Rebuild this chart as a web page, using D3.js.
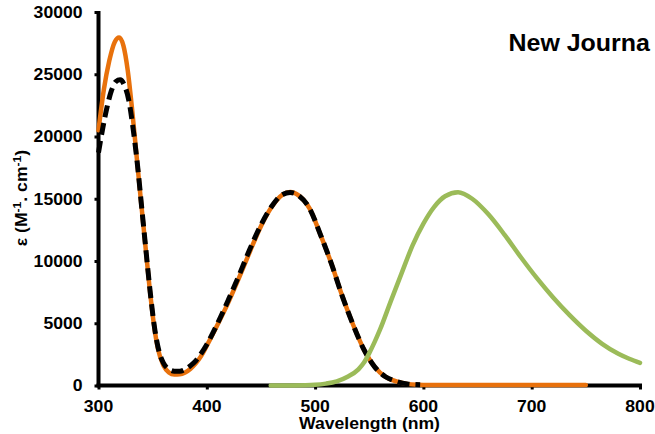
<!DOCTYPE html>
<html>
<head>
<meta charset="utf-8">
<script src="https://cdn.jsdelivr.net/npm/d3@7"></script>
<style>
  html, body { margin: 0; padding: 0; background: #fff; overflow: hidden; }
  svg { display: block; }
  text { font-family: "Liberation Sans", Arial, sans-serif; font-weight: bold; fill: #000; }
</style>
</head>
<body>
<svg id="chart" width="655" height="434"></svg>
<script>
// ---- data ----
const xTicks = [300, 400, 500, 600, 700, 800];
const yTicks = [0, 5000, 10000, 15000, 20000, 25000, 30000];

const expWavelength = [300, 305, 310, 315, 319, 323, 327, 331, 335, 339, 343, 347, 351, 355, 360, 365, 370, 375, 380, 385, 390, 395, 400, 410, 420, 430, 440, 450, 460, 470, 477, 485, 495, 505, 515, 525, 535, 545, 555, 565, 575, 585, 595, 605, 650, 700, 750];
const expEpsilon    = [20500, 23800, 26100, 27600, 27950, 27300, 25300, 22200, 18600, 15000, 11500, 8000, 5000, 2900, 1600, 1050, 880, 900, 1050, 1350, 1800, 2400, 3200, 4900, 6700, 8700, 10800, 12800, 14360, 15340, 15550, 15250, 14200, 12100, 9800, 7200, 4900, 2900, 1500, 700, 330, 130, 60, 40, 40, 40, 40];

const calcWavelength = [300, 304, 308, 312, 316, 320, 324, 328, 332, 336, 340, 344, 348, 352, 356, 360, 365, 370, 375, 380, 385, 390, 395, 400, 410, 420, 430, 440, 450, 460, 470, 477, 485, 495, 505, 515, 525, 535, 545, 555, 565, 575, 585, 597];
const calcEpsilon    = [18700, 20700, 22400, 23700, 24400, 24550, 24100, 22900, 20600, 17700, 14200, 10700, 7300, 4500, 2700, 1800, 1300, 1150, 1150, 1300, 1600, 2000, 2600, 3300, 5000, 6900, 8900, 11000, 12900, 14400, 15350, 15500, 15250, 14200, 12100, 9800, 7200, 4900, 2900, 1500, 700, 330, 130, 60];

const emWavelength = [459, 480, 500, 510, 520, 530, 540, 545, 550, 555, 560, 570, 580, 590, 600, 610, 620, 632, 645, 660, 675, 690, 705, 720, 735, 750, 765, 780, 790, 800];
const emIntensity  = [0, 10, 60, 150, 330, 700, 1300, 1820, 2600, 3500, 4500, 6800, 9050, 11250, 13000, 14350, 15200, 15520, 15000, 13750, 12100, 10300, 8600, 7050, 5650, 4400, 3350, 2550, 2150, 1820];

const titleText = "New Journa";
const xTitle = "Wavelength (nm)";

// ---- layout ----
const svg = d3.select("#chart");
const x = d3.scaleLinear().domain([300, 800]).range([98.5, 640]);
const y = d3.scaleLinear().domain([0, 30000]).range([385.5, 12]);
const SX = 1.1; // horizontal text stretch

const line = (xs, ys) => d3.line()
  .x((d, i) => x(xs[i]))
  .y((d, i) => y(ys[i]))
  .curve(d3.curveMonotoneX)(xs);

// axes
const xAxis = d3.axisBottom(x).tickValues(xTicks).tickSize(4).tickFormat("");
const yAxis = d3.axisLeft(y).tickValues(yTicks).tickSize(4).tickFormat("");

const gx = svg.append("g").attr("transform", `translate(0,${y(0)})`).call(xAxis);
const gy = svg.append("g").attr("transform", `translate(${x(300)},0)`).call(yAxis);
[gx, gy].forEach(g => {
  g.select(".domain").attr("stroke", "#000").attr("stroke-width", 4);
  g.selectAll(".tick line").attr("stroke", "#000").attr("stroke-width", 3);
});
gx.select(".domain").attr("d", `M${x(300) - 2},0H${x(800) + 2}`);
gy.select(".domain").attr("d", `M0,${y(30000) - 1}V${y(0)}`);

// tick labels
xTicks.forEach(t => {
  svg.append("text")
    .attr("transform", `translate(${x(t)},412) scale(${SX},1)`)
    .attr("text-anchor", "middle")
    .attr("font-size", 16)
    .text(t);
});
yTicks.forEach(t => {
  svg.append("text")
    .attr("transform", `translate(82.5,${y(t) + 5.8}) scale(${SX},1)`)
    .attr("text-anchor", "end")
    .attr("font-size", 16)
    .text(t);
});

// axis titles
svg.append("text")
  .attr("transform", `translate(369.5,428.5) scale(${SX},1)`)
  .attr("text-anchor", "middle")
  .attr("font-size", 16)
  .text(xTitle);

const yt = svg.append("text")
  .attr("transform", `translate(27,198) rotate(-90) scale(${SX},1)`)
  .attr("text-anchor", "middle")
  .attr("font-size", 16);
yt.append("tspan").text("ε (M");
yt.append("tspan").attr("font-size", 11).attr("dy", -6).text("-1");
yt.append("tspan").attr("dy", 6).text(". cm");
yt.append("tspan").attr("font-size", 11).attr("dy", -6).text("-1");
yt.append("tspan").attr("dy", 6).text(")");

// series
svg.append("path")
  .attr("d", line(expWavelength, expEpsilon))
  .attr("fill", "none").attr("stroke", "#E8710C").attr("stroke-width", 4.5)
  .attr("stroke-linejoin", "round").attr("stroke-linecap", "round");

svg.append("path")
  .attr("d", line(calcWavelength, calcEpsilon))
  .attr("fill", "none").attr("stroke", "#000").attr("stroke-width", 5)
  .attr("stroke-dasharray", "12,6");

svg.append("path")
  .attr("d", line(emWavelength, emIntensity))
  .attr("fill", "none").attr("stroke", "#9BBB59").attr("stroke-width", 4.5)
  .attr("stroke-linejoin", "round").attr("stroke-linecap", "round");

// title (cut at the frame in the source)
svg.append("text")
  .attr("transform", `translate(508.5,50.5) scale(1.04,1)`)
  .attr("font-size", 24)
  .text(titleText);
</script>
</body>
</html>
